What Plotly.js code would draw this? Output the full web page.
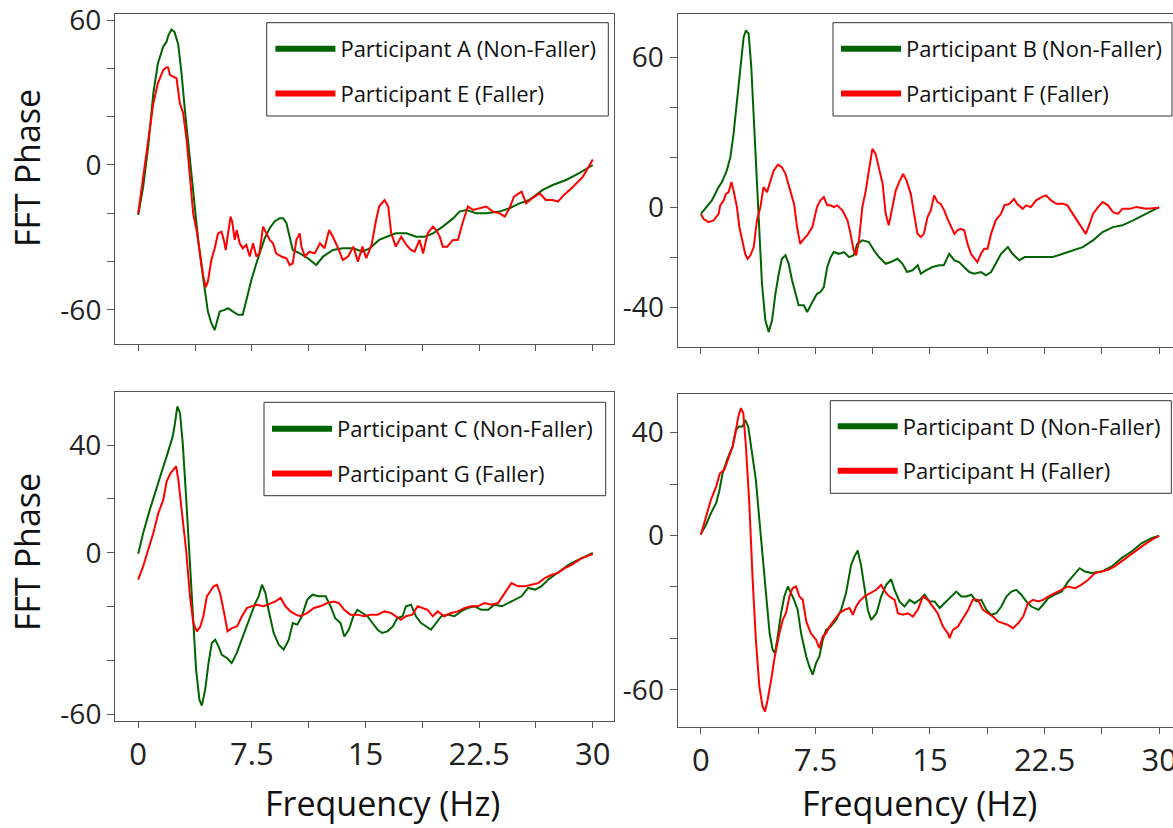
<!DOCTYPE html>
<html><head><meta charset="utf-8">
<script src="https://cdn.plot.ly/plotly-3.0.1.min.js"></script>
<style>html,body{margin:0;padding:0;overflow:hidden;background:#fff;width:1173px;height:828px}</style>
</head><body><div id="chart" style="width:1182px;height:828px"></div>
<script>
// ---- data (frequency Hz, FFT phase) ----
const partA = [[0,-20.7],[0.33,-9],[0.66,7.6],[1.0,29.7],[1.3,42],[1.65,49],[1.87,51],[2.0,53.8],[2.2,56.1],[2.4,55],[2.64,50],[2.86,38],[3.08,22.8],[3.3,9],[3.5,-3.4],[3.74,-17],[3.96,-31],[4.18,-42],[4.4,-53],[4.6,-60.7],[4.83,-65.5],[5.05,-68.3],[5.2,-64.8],[5.38,-60.7],[5.7,-60],[5.93,-59.3],[6.26,-60.7],[6.6,-62],[6.9,-62],[7.14,-55.9],[7.47,-47.6],[7.8,-40.7],[8.0,-36.6],[8.35,-30.3],[8.68,-26.2],[9.0,-23.4],[9.34,-22],[9.56,-22],[9.78,-24],[10.0,-29.7],[10.2,-35.2],[10.66,-36.6],[11.2,-38.6],[11.75,-41.4],[12.2,-37.9],[12.85,-35.2],[13.5,-34.5],[14.2,-34.5],[14.8,-35.9],[15.27,-34.5],[15.9,-31],[16.4,-29.7],[17.0,-28.3],[17.7,-28.3],[18.35,-29.7],[18.9,-29.7],[19.45,-28.3],[20.1,-25.5],[20.8,-22],[21.2,-19.3],[21.65,-18.6],[22.3,-20],[22.97,-20],[23.85,-19.3],[24.5,-17.9],[25.16,-15.9],[25.8,-14.5],[26.7,-10.3],[27.36,-8.3],[28.24,-6.2],[29.1,-3.4],[30.0,0]];
const partE = [[0,-20],[0.33,-4.8],[0.66,10.3],[1.0,25.5],[1.3,33.8],[1.65,39.3],[1.87,40.4],[1.98,40.3],[2.1,37.2],[2.3,36.6],[2.53,35.9],[2.75,25.5],[2.97,21.4],[3.2,10.3],[3.4,-3.4],[3.63,-20],[3.85,-26.9],[4.07,-36.6],[4.3,-46.2],[4.46,-50.6],[4.6,-48.3],[4.83,-39.3],[5.05,-34.5],[5.27,-28.3],[5.5,-27.6],[5.65,-31],[5.78,-35.2],[5.93,-28.3],[6.1,-21.4],[6.2,-23.4],[6.37,-31],[6.5,-26.9],[6.7,-32.4],[6.9,-34.5],[7.14,-33.1],[7.36,-37.9],[7.58,-32.4],[7.8,-37.9],[8.0,-36.6],[8.24,-25.5],[8.46,-28.3],[8.68,-31],[8.9,-32.4],[9.1,-36.6],[9.45,-37.9],[9.78,-38.6],[10.0,-41.4],[10.2,-40.7],[10.44,-31],[10.66,-28.3],[10.77,-33.8],[11.0,-37.9],[11.3,-35.9],[11.65,-36.6],[12.0,-32.4],[12.3,-34.5],[12.6,-26.9],[12.85,-29.7],[13.2,-34.5],[13.5,-39.3],[13.85,-37.9],[14.2,-33.8],[14.5,-40],[14.8,-33.8],[15.05,-38.6],[15.4,-33.1],[15.7,-22.8],[15.9,-17.2],[16.26,-14.5],[16.5,-17.2],[16.7,-28.3],[17.0,-33.8],[17.36,-29.7],[17.7,-33.1],[18.0,-35.2],[18.24,-35.9],[18.57,-31],[18.8,-36.6],[19.1,-28.3],[19.45,-25.5],[19.67,-26.9],[19.9,-29.7],[20.1,-33.8],[20.4,-33.8],[20.77,-31],[21.1,-31],[21.4,-24.1],[21.76,-17.2],[22.1,-18.6],[22.5,-17.9],[22.97,-17.2],[23.4,-19.3],[23.85,-20],[24.2,-21.4],[24.5,-17.9],[24.8,-13.1],[25.3,-11],[25.6,-15.9],[26.0,-13.8],[26.5,-11.7],[26.9,-14.5],[27.36,-14.5],[27.7,-15.2],[28.1,-12.4],[28.7,-9],[29.35,-4.8],[30.0,2.3]];
const partB = [[0,-2.7],[0.28,-0.7],[0.72,2.7],[1.16,8],[1.38,10],[1.7,14.7],[1.93,20],[2.14,29.3],[2.36,42.7],[2.58,57.3],[2.8,68],[2.95,70.7],[3.13,69.3],[3.3,56],[3.46,36],[3.6,16],[3.8,-8],[4.0,-30.7],[4.22,-45.3],[4.44,-50],[4.66,-45.3],[4.88,-34.7],[5.1,-26.7],[5.3,-20.7],[5.54,-19.3],[5.75,-22.7],[5.97,-29.3],[6.2,-34.7],[6.4,-39.3],[6.74,-39.3],[6.96,-42],[7.3,-38],[7.6,-34.7],[7.83,-34],[8.05,-32],[8.27,-24],[8.5,-20],[8.7,-18],[9.04,-18.7],[9.37,-18],[9.7,-20],[10.0,-19.3],[10.24,-14.7],[10.57,-13.3],[11.0,-14],[11.33,-17.3],[11.66,-20],[12.1,-22.7],[12.43,-22],[12.87,-20.7],[13.2,-22.7],[13.5,-26],[13.85,-25.3],[14.2,-23.3],[14.4,-26.7],[14.73,-25.3],[15.16,-24],[15.6,-23.3],[15.9,-23.3],[16.26,-18.7],[16.6,-21.3],[16.9,-22],[17.24,-24],[17.57,-26],[17.9,-26.7],[18.34,-26],[18.67,-27.3],[19.0,-26],[19.3,-22.7],[19.65,-18.7],[20.1,-16],[20.4,-18.7],[20.85,-21.3],[21.2,-20],[21.7,-20],[22.4,-20],[23.04,-20],[23.7,-18.7],[24.35,-17.3],[25.0,-16],[25.67,-13.3],[26.3,-10],[26.98,-8],[27.6,-7.3],[28.3,-5.3],[28.95,-3.3],[29.6,-1.3],[30,0]];
const partF = [[0,-2.7],[0.17,-4.7],[0.5,-6],[0.83,-5.3],[1.16,-2.7],[1.27,0.7],[1.5,2.7],[1.64,5.3],[1.82,6],[2.0,10],[2.14,6.7],[2.36,0],[2.52,-8],[2.7,-13.3],[2.9,-18.7],[3.06,-20.7],[3.24,-19.3],[3.46,-16],[3.67,-5.3],[3.9,0],[4.1,8],[4.33,6],[4.55,10],[4.77,14.7],[5.05,17],[5.3,16],[5.54,13.3],[5.8,8],[6.1,1.3],[6.3,-8],[6.5,-14.7],[6.74,-12.7],[6.96,-11.3],[7.3,-8],[7.6,0],[7.83,2.7],[8.05,4],[8.27,0.7],[8.5,0.7],[8.7,0],[8.93,0.7],[9.26,-1.3],[9.6,-5.3],[9.8,-10.7],[10.0,-17.3],[10.17,-19.3],[10.35,-13.3],[10.57,0],[10.8,6.7],[11.0,14.7],[11.23,23.3],[11.44,21.3],[11.66,16],[11.9,9.3],[12.1,-2.7],[12.3,-7.3],[12.54,0],[12.76,6.7],[12.98,10],[13.24,13.3],[13.46,10.7],[13.74,5.3],[13.96,-2.7],[14.18,-10.7],[14.4,-12],[14.6,-10.7],[14.84,-4],[15.05,-1.3],[15.27,4.7],[15.5,2],[15.7,1.3],[15.93,-1.3],[16.15,-4.7],[16.37,-8],[16.6,-10.7],[16.8,-9.3],[17.0,-8.7],[17.24,-9.3],[17.46,-14.7],[17.68,-18.7],[17.9,-20.7],[18.1,-22],[18.34,-18.7],[18.55,-16.7],[18.77,-16.7],[19.0,-10.7],[19.3,-5.3],[19.65,-2.7],[19.87,0.7],[20.2,1.3],[20.5,3.3],[20.7,1.3],[21.07,-0.7],[21.3,0.7],[21.6,0],[21.95,2.7],[22.3,4],[22.6,4.7],[22.93,2.7],[23.26,1.3],[23.7,1.3],[24.0,0.7],[24.35,-2.7],[24.7,-6],[25.0,-9.3],[25.2,-10.7],[25.45,-6.7],[25.67,-2.7],[26.0,0],[26.3,2],[26.65,0.7],[26.98,-2],[27.3,-2.7],[27.6,-0.7],[28.07,-0.7],[28.5,0],[29.17,-0.7],[30,-0.3]];
const partC = [[0,-0.4],[0.33,7.3],[0.77,16],[1.1,22.2],[1.44,28.3],[1.66,32],[1.88,35.8],[2.1,39.5],[2.28,43.2],[2.43,48.1],[2.58,54.3],[2.76,51.9],[2.94,40.7],[3.16,20.9],[3.38,-1.4],[3.6,-24.9],[3.82,-43.4],[4.04,-54.6],[4.2,-56.8],[4.42,-50.9],[4.64,-41],[4.86,-33.5],[5.08,-32.3],[5.3,-34.8],[5.52,-37.9],[5.85,-39.1],[6.17,-41],[6.5,-37.3],[6.83,-32.3],[7.18,-27.4],[7.5,-22.4],[7.73,-18.7],[7.95,-16.2],[8.17,-11.9],[8.4,-15],[8.6,-21.2],[8.94,-29.8],[9.28,-34.2],[9.6,-36],[9.94,-32.3],[10.2,-26.1],[10.5,-26.7],[10.8,-23.6],[11.15,-17.5],[11.5,-15.6],[11.9,-16.2],[12.37,-16.2],[12.7,-19.9],[13.0,-24.3],[13.35,-26.1],[13.6,-31.1],[13.9,-28.6],[14.2,-23.6],[14.47,-21.2],[14.8,-22.4],[15.13,-23.6],[15.46,-26.1],[15.8,-28.6],[16.1,-29.8],[16.45,-29.2],[16.8,-27.4],[17.1,-24.3],[17.45,-23.6],[17.67,-19.9],[18.0,-19.3],[18.33,-23.6],[18.67,-26.1],[19.0,-27.4],[19.33,-28.6],[19.66,-26.1],[20.0,-23.6],[20.4,-23],[20.87,-23.6],[21.3,-21.8],[21.76,-20.5],[22.2,-19.9],[22.64,-21.2],[23.1,-21.2],[23.5,-19.3],[24.0,-19.9],[24.4,-18.7],[24.85,-17.5],[25.3,-16.2],[25.73,-13.1],[26.2,-13.7],[26.6,-12.5],[27.06,-10],[27.5,-8.2],[27.94,-6.3],[28.4,-4.5],[28.83,-3.2],[29.5,-1.4],[30,-0.1]];
const partG = [[0,-10],[0.33,-5],[0.66,1.1],[1.0,7.3],[1.33,14.7],[1.66,19.7],[1.88,26.5],[2.14,29.6],[2.32,30.8],[2.5,32.1],[2.65,27.1],[2.87,16],[3.16,1.1],[3.42,-16.2],[3.64,-26.1],[3.87,-29.2],[4.1,-27.4],[4.3,-23.6],[4.53,-16.2],[4.75,-14.4],[4.97,-12.5],[5.2,-11.9],[5.4,-15],[5.63,-21.2],[5.9,-29.2],[6.18,-28],[6.52,-27.4],[6.85,-23.6],[7.18,-20.5],[7.5,-19.9],[7.84,-19.3],[8.28,-19.9],[8.73,-18.7],[9.06,-18.1],[9.4,-16.8],[9.72,-19.9],[10.05,-21.8],[10.4,-23],[10.7,-23.6],[11.15,-22.4],[11.6,-20.5],[12.0,-19.9],[12.48,-18.7],[12.9,-18.1],[13.25,-18.7],[13.6,-21.2],[14.0,-23],[14.47,-23],[14.9,-23.6],[15.35,-23],[15.8,-23],[16.24,-21.8],[16.68,-22.4],[17.0,-23.6],[17.34,-24.9],[17.67,-23.6],[18.1,-23],[18.44,-19.9],[18.78,-20.5],[19.1,-21.2],[19.44,-23.6],[19.77,-21.8],[20.2,-23.6],[20.65,-22.4],[21.1,-21.8],[21.54,-20.5],[22.0,-19.9],[22.4,-19.9],[22.86,-18.7],[23.3,-19.3],[23.75,-18.7],[24.2,-15],[24.63,-11.3],[25.07,-12.5],[25.5,-12.5],[25.96,-11.9],[26.4,-11.3],[26.84,-9.4],[27.3,-8.2],[27.7,-7.5],[28.16,-5.7],[28.6,-4.5],[29.27,-2],[30,-0.5]];
const partD = [[0,0.6],[0.33,4.1],[0.66,8.7],[1.0,12.6],[1.2,17.1],[1.42,24.2],[1.75,30],[2.08,34.6],[2.3,41.1],[2.5,42.4],[2.73,42.4],[2.9,44.9],[3.1,42.4],[3.4,30.7],[3.6,21.6],[3.83,6.1],[4.04,-8.2],[4.26,-23.7],[4.5,-38],[4.7,-44.4],[4.85,-45.7],[5.0,-40.5],[5.25,-30.2],[5.46,-23.7],[5.7,-19.8],[5.9,-22.4],[6.1,-25],[6.34,-28.9],[6.56,-38],[6.9,-47],[7.1,-50.9],[7.32,-54.1],[7.54,-49.6],[7.76,-47],[7.98,-40.5],[8.2,-36.7],[8.5,-35.4],[8.85,-32.8],[9.18,-28.9],[9.5,-22.4],[9.84,-11.4],[10.05,-8.2],[10.27,-5.8],[10.5,-12],[10.7,-19.8],[10.93,-28.9],[11.15,-32.8],[11.5,-30.2],[11.8,-23.7],[12.13,-19.2],[12.46,-17],[12.68,-21.1],[13.0,-25.6],[13.33,-27.6],[13.66,-25],[14.0,-26.3],[14.32,-25],[14.64,-23],[14.97,-25.6],[15.3,-25.6],[15.63,-28.2],[15.96,-26.3],[16.4,-23.7],[16.72,-21.8],[17.05,-23.7],[17.38,-23.7],[17.7,-23],[18.03,-25.6],[18.36,-25],[18.7,-28.9],[19.0,-30.8],[19.34,-30.2],[19.67,-27.6],[20.0,-23.7],[20.33,-21.8],[20.65,-21.1],[20.98,-23],[21.3,-25.6],[21.64,-27.6],[22.1,-28.9],[22.4,-26.9],[22.73,-24.4],[23.17,-23],[23.6,-21.8],[24.04,-17.9],[24.5,-14.6],[24.8,-12.7],[25.14,-14],[25.57,-14.6],[26.23,-14],[26.9,-12],[27.54,-8.8],[28.2,-6.2],[28.85,-3],[29.5,-1],[30,-0.1]];
const partH = [[0,0.3],[0.33,7.4],[0.66,13.9],[1.0,19],[1.25,24.2],[1.53,25.5],[1.75,29.4],[2.08,34.6],[2.3,41.1],[2.45,46.2],[2.62,49.5],[2.78,47.5],[2.95,34.6],[3.17,12.6],[3.39,-17.2],[3.6,-40.5],[3.83,-58.7],[4.04,-66.5],[4.2,-68.4],[4.37,-63.9],[4.6,-56.1],[4.8,-48.3],[5.14,-38],[5.36,-32.8],[5.57,-30.2],[5.8,-23.7],[6.0,-20.5],[6.23,-19.8],[6.45,-23.7],[6.67,-25],[6.9,-33.4],[7.2,-38],[7.54,-40.5],[7.76,-43.8],[7.98,-39.2],[8.2,-38],[8.42,-35.4],[8.74,-32.8],[9.07,-30.2],[9.4,-28.9],[9.73,-28.2],[9.95,-30.8],[10.16,-27.6],[10.38,-25.6],[10.7,-23.7],[11.15,-22.2],[11.48,-21.1],[11.8,-19.2],[12.13,-22.4],[12.35,-23.7],[12.68,-25],[12.9,-30.2],[13.22,-30.8],[13.55,-30.2],[13.88,-31.5],[14.2,-28.9],[14.54,-23.7],[14.86,-25],[15.2,-27.6],[15.5,-30.2],[15.85,-35.4],[16.17,-38],[16.28,-39.9],[16.5,-36.7],[16.83,-35.4],[17.16,-32.1],[17.5,-28.9],[17.8,-25],[18.14,-25],[18.47,-28.9],[18.8,-30.2],[19.13,-31.5],[19.45,-33.4],[19.78,-34.1],[20.1,-34.7],[20.44,-36],[20.77,-34.1],[21.1,-31.5],[21.42,-26.3],[21.75,-25],[22.08,-25.6],[22.4,-25],[22.73,-23.7],[23.17,-22.4],[23.6,-21.1],[24.04,-19.8],[24.5,-20.5],[24.9,-19.2],[25.36,-17.2],[25.8,-14.6],[26.23,-14],[26.67,-13.3],[27.1,-12],[27.54,-10.1],[28.2,-6.9],[28.85,-4.3],[29.5,-1.7],[30,-0.1]];

const seriesNames = {
  A:'Participant A (Non-Faller)', E:'Participant E (Faller)',
  B:'Participant B (Non-Faller)', F:'Participant F (Faller)',
  C:'Participant C (Non-Faller)', G:'Participant G (Faller)',
  D:'Participant D (Non-Faller)', H:'Participant H (Faller)'
};
const xTickVals = [0,3.75,7.5,11.25,15,18.75,22.5,26.25,30];
const xTickText = ['0','','7.5','','15','','22.5','','30'];
const yTicksA = [-60,-40,-20,0,20,40,60], yTextA = ['-60','','','0','','','60'];
const yTicksB = [-40,-20,0,20,40,60],     yTextB = ['-40','','0','','','60'];
const yTicksC = [-60,-40,-20,0,20,40],    yTextC = ['-60','','','0','','40'];
const yTicksD = [-60,-40,-20,0,20,40],    yTextD = ['-60','','','0','','40'];
const xTitle = 'Frequency (Hz)', yTitle = 'FFT Phase';

// ---- layout helpers ----
const W = 1182, H = 828;
const FONT = '"Open Sans", sans-serif';
const GREEN = '#006400', RED = '#ff0000';
const px = v => v / W, py = v => 1 - v / H;

function line(pts, color, xa, ya) {
  return {x: pts.map(p => p[0]), y: pts.map(p => p[1]), mode: 'lines', type: 'scatter',
          line: {color, width: 2}, xaxis: xa, yaxis: ya, showlegend: false, hoverinfo: 'skip'};
}
function legendEntry(name, color, xa, ya, leg, grp) {
  return {x: [null], y: [null], mode: 'lines', type: 'scatter', name, legend: leg, legendgroup: grp,
          line: {color, width: 6}, xaxis: xa, yaxis: ya, hoverinfo: 'skip'};
}
const traces = [
  line(partA, GREEN, 'x', 'y'), line(partE, RED, 'x', 'y'),
  line(partB, GREEN, 'x2', 'y2'), line(partF, RED, 'x2', 'y2'),
  line(partC, GREEN, 'x3', 'y3'), line(partG, RED, 'x3', 'y3'),
  line(partD, GREEN, 'x4', 'y4'), line(partH, RED, 'x4', 'y4'),
  legendEntry(seriesNames.A, GREEN, 'x', 'y', 'legend', 'g1'), legendEntry(seriesNames.E, RED, 'x', 'y', 'legend', 'g2'),
  legendEntry(seriesNames.B, GREEN, 'x2', 'y2', 'legend2', 'g3'), legendEntry(seriesNames.F, RED, 'x2', 'y2', 'legend2', 'g4'),
  legendEntry(seriesNames.C, GREEN, 'x3', 'y3', 'legend3', 'g5'), legendEntry(seriesNames.G, RED, 'x3', 'y3', 'legend3', 'g6'),
  legendEntry(seriesNames.D, GREEN, 'x4', 'y4', 'legend4', 'g7'), legendEntry(seriesNames.H, RED, 'x4', 'y4', 'legend4', 'g8')
];

function xAxis(d0, d1, anchor, labelled) {
  return {domain: [px(d0), px(d1)], anchor, range: [-1.53, 31.4], tickmode: 'array', tickvals: xTickVals,
    ticktext: labelled ? xTickText : xTickVals.map(() => ''), ticks: 'outside', ticklen: 6, tickwidth: 1,
    tickcolor: '#555', showline: true, linecolor: '#555', linewidth: 1, mirror: true, showgrid: false,
    zeroline: false, tickfont: {family: FONT, size: 31, color: '#222'}, fixedrange: true,
    ticklabeloverflow: 'allow'};
}
function yAxis(t0, t1, anchor, range, vals, text) {
  return {domain: [py(t1), py(t0)], anchor, range, tickmode: 'array', tickvals: vals, ticktext: text,
    ticks: 'outside', ticklen: 7, tickwidth: 1, tickcolor: '#555', showline: true, linecolor: '#555',
    linewidth: 1, mirror: true, showgrid: false, zeroline: false, ticklabeloverflow: 'allow',
    tickfont: {family: FONT, size: 28, color: '#222'}, fixedrange: true};
}
function legendAt(left, top) {
  return {x: px(left), y: py(top), xanchor: 'left', yanchor: 'top', bgcolor: 'rgba(0,0,0,0)',
    borderwidth: 0, font: {family: FONT, size: 22, color: '#111'}, itemwidth: 60, tracegroupgap: 13,
    traceorder: 'grouped'};
}
function frame(x0, y0, x1, y1) {
  return {type: 'rect', xref: 'paper', yref: 'paper', x0: px(x0), x1: px(x1), y0: py(y1), y1: py(y0),
    line: {color: '#333', width: 1}, fillcolor: '#fff', layer: 'above'};
}
function title(text, x, y, angle) {
  return {text, xref: 'paper', yref: 'paper', x: px(x), y: py(y), showarrow: false, textangle: angle,
    xanchor: 'center', yanchor: 'middle', font: {family: FONT, size: 34, color: '#111'}};
}

const layout = {
  width: W, height: H, margin: {l: 0, r: 0, t: 0, b: 0}, paper_bgcolor: '#fff', plot_bgcolor: '#fff',
  xaxis:  xAxis(115, 614, 'y', false),
  yaxis:  yAxis(14, 344, 'x', [-74.1, 62.5], yTicksA, yTextA),
  xaxis2: xAxis(677.5, 1180.5, 'y2', false),
  yaxis2: yAxis(14, 347, 'x2', [-56, 77.3], yTicksB, yTextB),
  xaxis3: xAxis(115, 614, 'y3', true),
  yaxis3: yAxis(391.7, 721, 'x3', [-62.5, 59.8], yTicksC, yTextC),
  xaxis4: xAxis(677.5, 1180.5, 'y4', true),
  yaxis4: yAxis(394, 726.7, 'x4', [-74.3, 55], yTicksD, yTextD),
  legend: legendAt(270.4, 28), legend2: legendAt(836, 28),
  legend3: legendAt(267, 408), legend4: legendAt(832.7, 405.4),
  shapes: [
    frame(266.7, 22.7, 608.3, 116), frame(833, 22.7, 1172, 116),
    frame(264, 402.3, 605.7, 495.7), frame(830.3, 400.7, 1171.3, 493.3)
  ],
  annotations: [
    title(yTitle, 27, 168, -90), title(yTitle, 27, 552, -90),
    title(xTitle, 382, 803, 0), title(xTitle, 919, 803, 0)
  ]
};
Plotly.newPlot('chart', traces, layout, {staticPlot: true, displayModeBar: false});
</script></body></html>
